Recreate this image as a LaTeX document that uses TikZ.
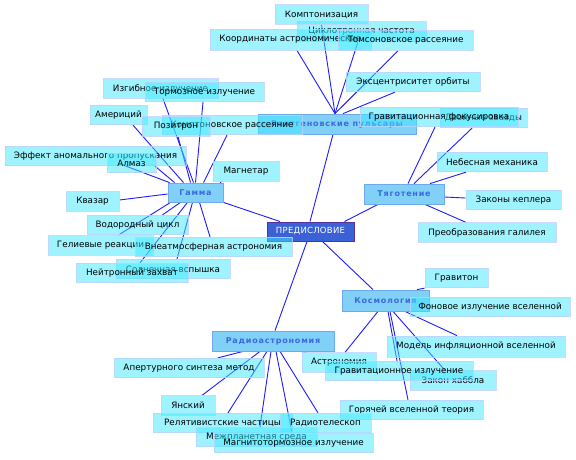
\documentclass[tikz,border=0pt]{standalone}
\usepackage{fontspec}
\setmainfont{DejaVu Sans}
\newfontfamily\catfont[LetterSpace=10]{DejaVu Sans}
\newfontfamily\predfont[LetterSpace=3]{DejaVu Sans}
\usetikzlibrary{backgrounds}
\definecolor{leaffill}{RGB}{64,232,255}
\definecolor{leafdraw}{RGB}{190,210,255}
\definecolor{catfill}{RGB}{128,208,248}
\definecolor{catdraw}{RGB}{110,170,235}
\definecolor{cattext}{RGB}{58,106,222}
\definecolor{predfill}{RGB}{58,98,214}
\definecolor{preddraw}{RGB}{84,50,160}
\definecolor{linkcol}{RGB}{28,28,255}
\begin{document}
\begin{tikzpicture}[x=1pt,y=-1pt,
  leaf/.style={draw=leafdraw, line width=0.8pt, fill=leaffill, fill opacity=0.5, draw opacity=0.8, text opacity=1,
    minimum height=19.5pt, inner sep=0pt, font=\fontsize{8.8}{10}\selectfont},
  cat/.style={draw=catdraw, line width=0.8pt, fill=catfill, text=cattext,
    minimum height=20pt, inner sep=0pt, font=\catfont\bfseries\fontsize{8}{10}\selectfont},
  pred/.style={draw=preddraw, line width=1pt, fill=predfill, text=white,
    minimum height=19pt, inner sep=0pt, font=\predfont\fontsize{8.5}{10}\selectfont},
  link/.style={draw=linkcol, line width=0.9pt}]
\useasboundingbox (0,0) rectangle (576,459);
% central and categories
\node[pred, minimum width=87pt] (pred) at (310.5,231.5) {ПРЕДИСЛОВИЕ};
\node[cat, minimum width=158pt] (puls) at (337,124) {Рентгеновские пульсары};
\node[cat, minimum width=55pt, minimum height=19pt] (gamma) at (195.5,192.5) {Гамма};
\node[cat, minimum width=80pt] (tyag) at (404,194) {Тяготение};
\node[cat, minimum width=87pt, minimum height=21pt] (kosm) at (385.5,300.5) {Космология};
\node[cat, minimum width=122pt] (radio) at (273,341) {Радиоастрономия};
% pulsar leaves
\node[leaf, minimum width=129pt] (cyc) at (361.5,31.5) {Циклотронная частота};
\node[leaf, minimum width=93pt] (komp) at (321.5,14.5) {Комптонизация};
\node[leaf, minimum width=161pt, minimum height=21pt] (coord) at (290.5,39.5) {Координаты астрономические};
\node[leaf, minimum width=135pt] (thom) at (405.5,40.5) {Томсоновское рассеяние};
\node[leaf, minimum width=134pt] (ecc) at (413,82) {Эксцентриситет орбиты};
% gravitation leaves
\node[leaf, minimum width=87pt] (dbl) at (483.5,118) {Двойные звезды};
\node[leaf, minimum width=158pt] (gfoc) at (439,117) {Гравитационная фокусировка};
\node[leaf, minimum width=110pt] (neb) at (492,162) {Небесная механика};
\node[leaf, minimum width=95pt] (kepl) at (513.5,200) {Законы кеплера};
\node[leaf, minimum width=138pt] (gal) at (487,232.5) {Преобразования галилея};
% gamma leaves
\node[leaf, minimum width=115pt] (izg) at (160.5,88.5) {Изгибное излучение};
\node[leaf, minimum width=119pt] (torm) at (204.5,92) {Тормозное излучение};
\node[leaf, minimum width=57pt] (amer) at (118.5,115) {Америций};
\node[leaf, minimum width=140pt] (comp) at (232,125) {Комптоновское рассеяние};
\node[leaf, minimum width=68pt] (pos) at (176,126.5) {Позитрон};
\node[leaf, minimum width=181pt] (eff) at (95.5,156) {Эффект аномального пропускания};
\node[leaf, minimum width=49pt] (almaz) at (131.5,163) {Алмаз};
\node[leaf, minimum width=66pt] (magn) at (246,171.5) {Магнетар};
\node[leaf, minimum width=53pt] (kvaz) at (92.5,201.5) {Квазар};
\node[leaf, minimum width=101pt] (vod) at (137.5,225) {Водородный цикл};
\node[leaf, minimum width=105pt] (gel) at (100.5,245.5) {Гелиевые реакции};
\node[leaf, minimum width=157pt] (vneat) at (213.5,247) {Внеатмосферная астрономия};
\node[leaf, minimum width=114pt] (soln) at (173,269) {Солнечная вспышка};
\node[leaf, minimum width=112pt] (neit) at (132,273) {Нейтронный захват};
% cosmology leaves
\node[leaf, minimum width=63pt] (grav) at (456.5,278) {Гравитон};
\node[leaf, minimum width=160pt] (fon) at (490,307) {Фоновое излучение вселенной};
\node[leaf, minimum width=178pt, minimum height=21pt] (model) at (476,346.5) {Модель инфляционной вселенной};
\node[leaf, minimum width=74pt] (astr) at (339,362.5) {Астрономия};
\node[leaf, minimum width=86pt] (hubb) at (453,380.5) {Закон хаббла};
\node[leaf, minimum width=148pt] (gizl) at (399,371) {Гравитационное излучение};
\node[leaf, minimum width=143pt] (hot) at (411.5,410) {Горячей вселенной теория};
% radio leaves
\node[leaf, minimum width=150pt] (apert) at (189,368) {Апертурного синтеза метод};
\node[leaf, minimum width=54pt] (jan) at (188,405.5) {Янский};
\node[leaf, minimum width=139pt] (rel) at (222.5,423) {Релятивистские частицы};
\node[leaf, minimum width=91pt] (radt) at (325.5,423) {Радиотелескоп};
\node[leaf, minimum width=121pt] (mezh) at (256.5,437) {Межпланетная среда};
\node[leaf, minimum width=159pt] (magt) at (293.5,443) {Магнитотормозное излучение};
% connectors
\begin{scope}[on background layer]
\draw[link] ([xshift=-2pt]puls.north) -- ([xshift=6.5pt]coord.south);
\draw[link] ([xshift=-2pt]puls.north) -- (komp.south);
\draw[link] ([xshift=-2pt]puls.north) -- ([xshift=-3.5pt]cyc.south);
\draw[link] ([xshift=-2pt]puls.north) -- ([xshift=-7.5pt]thom.south);
\draw[link] ([xshift=6pt]puls.north) -- ([xshift=-18pt]ecc.south);
\draw[link] ([xshift=-4pt]puls.south) -- ([xshift=-0.5pt]pred.north);
% gamma
\draw[link] ([xshift=-2pt]gamma.north) -- ([xshift=2.5pt]izg.south);
\draw[link] (gamma.north) -- ([xshift=-1.5pt]torm.south);
\draw[link] ([xshift=-12pt]gamma.north) -- ([xshift=14.5pt]amer.south);
\draw[link] ([xshift=-5pt]gamma.north) -- ([xshift=2pt]pos.south);
\draw[link] ([xshift=8pt]gamma.north) -- ([xshift=-5pt]comp.south);
\draw[link] ([xshift=7pt]gamma.north west) -- ([xshift=59.5pt]eff.south);
\draw[link] ([xshift=2pt]gamma.north west) -- ([xshift=-8.5pt,yshift=-2pt]almaz.center);
\draw[link] ([xshift=24.5pt]gamma.north) -- ([xshift=9pt]magn.south west);
\draw[link] ([yshift=-1.5pt]gamma.west) -- ([yshift=1.5pt]kvaz.east);
\draw[link] ([xshift=-15pt]gamma.south) -- ([xshift=25pt]vod.north);
\draw[link] ([xshift=-25pt]gamma.south) -- ([xshift=17.5pt]gel.north);
\draw[link] ([xshift=-8pt]gamma.south) -- ([xshift=8pt]neit.north);
\draw[link] ([xshift=-3pt]gamma.south) -- ([xshift=4pt]soln.north);
\draw[link] ([xshift=4pt]gamma.south) -- ([xshift=-3.5pt]vneat.north);
\draw[link] (gamma.south east) -- ([xshift=13.5pt]pred.north west);
% gravitation
\draw[link] ([xshift=-10pt]pred.north east) -- ([xshift=-26pt]tyag.south);
\draw[link] ([xshift=4pt]tyag.north) -- ([xshift=-4pt]gfoc.south);
\draw[link] ([xshift=10pt]tyag.north) -- ([xshift=-11.5pt]dbl.south);
\draw[link] ([xshift=26pt]tyag.north) -- ([xshift=-26pt]neb.south);
\draw[link] ([yshift=-3pt]tyag.east) -- ([yshift=2pt]kepl.west);
\draw[link] ([xshift=21pt]tyag.south) -- ([xshift=-21pt]gal.north);
% cosmology
\draw[link] ([xshift=12pt]pred.south) -- ([xshift=-12.5pt]kosm.north);
\draw[link] ([xshift=31.5pt]kosm.north) -- (grav.south west);
\draw[link] ([xshift=19.5pt]kosm.south) -- ([xshift=-19pt]model.north);
\draw[link] ([xshift=7.5pt]kosm.south) -- ([xshift=-8pt]hubb.north);
\draw[link] ([xshift=2.5pt]kosm.south) -- ([xshift=-2pt]gizl.north);
\draw[link] ([xshift=4.5pt]kosm.south) -- ([xshift=-3.5pt]hot.north);
\draw[link] ([xshift=-7.5pt]kosm.south) -- ([xshift=6pt]astr.north);
% radio
\draw[link] ([xshift=-3.5pt]pred.south) -- ([xshift=2pt]radio.north);
\draw[link] ([xshift=-30pt]radio.south) -- ([xshift=29pt]apert.north);
\draw[link] ([xshift=-13pt]radio.south) -- ([xshift=14pt]jan.north);
\draw[link] ([xshift=-6pt]radio.south) -- ([xshift=5.5pt]rel.north);
\draw[link] ([xshift=-2pt]radio.south) -- ([xshift=3.5pt]mezh.north);
\draw[link] ([xshift=3pt]radio.south) -- ([xshift=-1.5pt]magt.north);
\draw[link] ([xshift=7pt]radio.south) -- ([xshift=-7.5pt]radt.north);
\draw[link] ([xshift=27pt]radio.south) -- ([xshift=5pt]astr.north west);
\end{scope}
\end{tikzpicture}
\end{document}
